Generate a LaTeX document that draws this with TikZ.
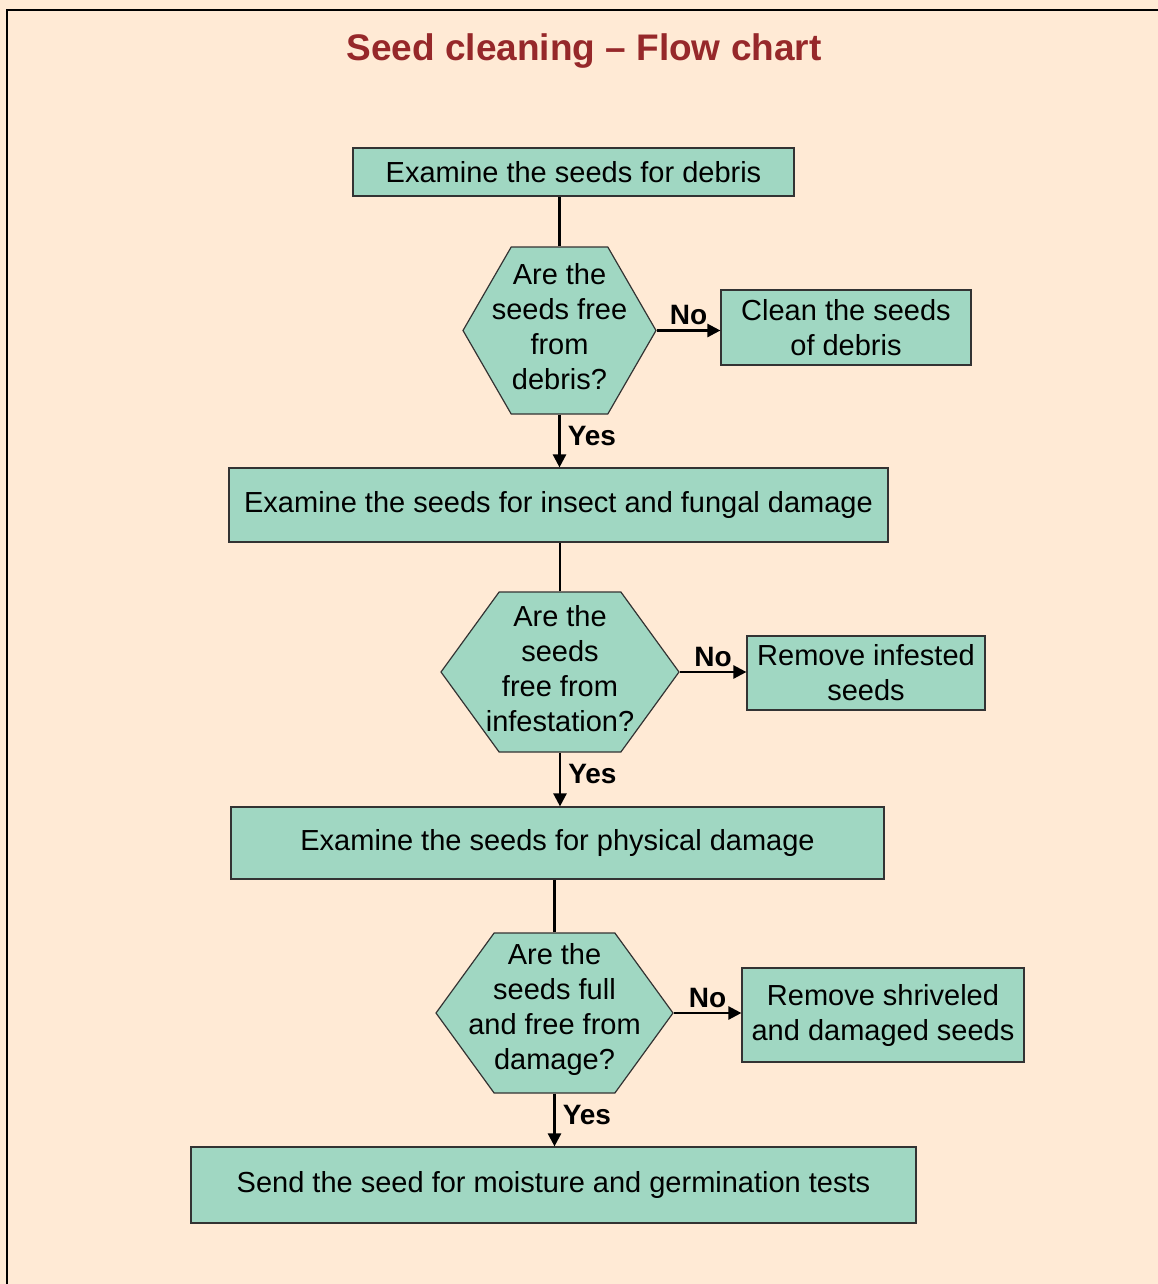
\documentclass[tikz,border=0pt]{standalone}
\usepackage{fontspec}
\setmainfont{Liberation Sans}
\usetikzlibrary{shapes.symbols,arrows.meta}
\definecolor{peach}{RGB}{255,234,213}
\definecolor{seedgreen}{RGB}{160,215,194}
\definecolor{titlered}{RGB}{150,40,42}
\begin{document}
\begin{tikzpicture}[x=1pt, y=-1pt,
      every node/.style = {font=\fontsize{29}{35}\selectfont, align=center, inner sep=0pt},
      procbox/.style = {draw=black!80, fill=seedgreen, line width=1.2pt},
      decision/.style = {shape=signal, signal to=east and west,
        draw=black!80, fill=seedgreen, line width=1.2pt},
      every label/.style = {yshift=3.5pt},
      lbl/.style = {font=\fontsize{28}{34}\selectfont\bfseries},
      link/.style = {line width=2.5pt},
      arr/.style = {link, -{Triangle[length=13pt,width=13pt]}}]
  \useasboundingbox (0,0) rectangle (1158,1284);
  \fill[peach] (0,0) rectangle (1158,1284);
  \draw[line width=2.5pt] (7,1290) -- (7,10) -- (1165,10);
  \node[font=\fontsize{37}{44}\selectfont\bfseries, text=titlered] (title) at (584,51)
    {Seed cleaning -- Flow chart};
  % main column
  \node[procbox, minimum width=441, minimum height=48] (b1) at (573.5,172)
    {Examine the seeds for debris};
  \node[decision, signal pointer angle=120, minimum width=193, minimum height=167,
    label={center:{Are the\\seeds free\\from\\debris?}}] (q1) at (559.5,330.5) {};
  \node[procbox, minimum width=659, minimum height=74] (b2) at (558.5,505)
    {Examine the seeds for insect and fungal damage};
  \node[decision, signal pointer angle=108, minimum width=238, minimum height=160,
    label={center:{Are the\\seeds\\free from\\infestation?}}] (q2) at (560,672) {};
  \node[procbox, minimum width=653, minimum height=72] (b3) at (557.5,843)
    {Examine the seeds for physical damage};
  \node[decision, signal pointer angle=108, minimum width=237, minimum height=160,
    label={center:{Are the\\seeds full\\and free from\\damage?}}] (q3) at (554.5,1013) {};
  \node[procbox, minimum width=725, minimum height=76] (b4) at (553.5,1185)
    {Send the seed for moisture and germination tests};
  % side boxes
  \node[procbox, minimum width=250, minimum height=75] (n1) at (846,327.5)
    {Clean the seeds\\of debris};
  \node[procbox, minimum width=238, minimum height=74] (n2) at (866,673)
    {Remove infested\\seeds};
  \node[procbox, minimum width=282, minimum height=94] (n3) at (883,1015)
    {Remove shriveled\\and damaged seeds};
  % connectors
  \draw[link] (q1.north) -- (q1.north |- b1.south);
  \draw[link] (q2.north) -- (q2.north |- b2.south);
  \draw[link] (q3.north) -- (q3.north |- b3.south);
  \draw[arr] (q1.east) -- node[lbl, above=4pt] {No} (q1.east -| n1.west);
  \draw[arr] (q2.east) -- node[lbl, above=4pt] {No} (q2.east -| n2.west);
  \draw[arr] (q3.east) -- node[lbl, above=4pt] {No} (q3.east -| n3.west);
  \draw[arr] (q1.south) -- node[lbl, right=7pt, pos=0.4] {Yes} (q1.south |- b2.north);
  \draw[arr] (q2.south) -- node[lbl, right=7pt, pos=0.4] {Yes} (q2.south |- b3.north);
  \draw[arr] (q3.south) -- node[lbl, right=7pt, pos=0.4] {Yes} (q3.south |- b4.north);
\end{tikzpicture}
\end{document}
